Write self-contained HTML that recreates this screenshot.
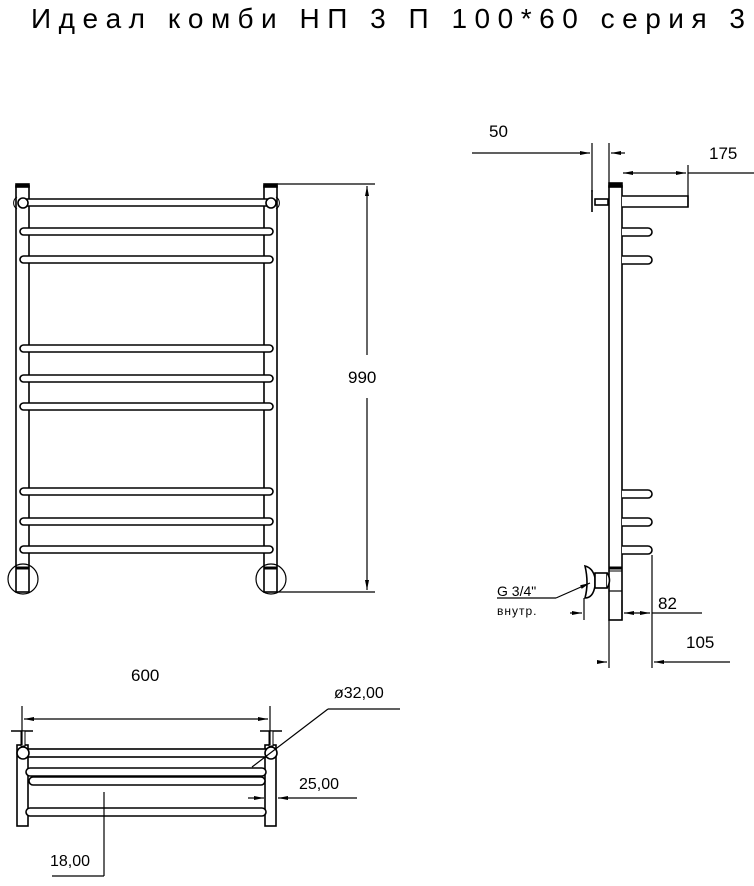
<!DOCTYPE html>
<html><head><meta charset="utf-8"><style>
html,body{margin:0;padding:0;background:#fff}
svg{display:block}
text{font-family:"Liberation Sans","DejaVu Sans",sans-serif;fill:#000}
</style></head><body>
<svg width="754" height="886" viewBox="0 0 754 886" xmlns="http://www.w3.org/2000/svg">
<defs>
<marker id="a" markerWidth="10" markerHeight="6" refX="10" refY="3" orient="auto-start-reverse" markerUnits="userSpaceOnUse"><path d="M0,1 L10,3 L0,5 Z" fill="#000"/></marker>
</defs>
<text x="31" y="28" font-size="28" textLength="714" lengthAdjust="spacing" font-weight="normal">Идеал комби НП 3 П 100*60 серия 3</text>

<g stroke="#000" stroke-width="1.6" fill="#fff">
<!-- FRONT VIEW -->
<rect x="16" y="186" width="13" height="406"/>
<rect x="264" y="186" width="13" height="406"/>
<rect x="16" y="184" width="13" height="3" fill="#000"/>
<rect x="264" y="184" width="13" height="3" fill="#000"/>
<rect x="21" y="199" width="251" height="7" rx="3"/>
<circle cx="23" cy="203" r="5"/><circle cx="271" cy="203" r="5"/>
<path d="M17,197 a7,7 0 0,0 0,12 M276,197 a7,7 0 0,1 0,12" fill="none" stroke-width="1"/>
<rect x="20" y="228" width="253" height="7" rx="3.5"/>
<rect x="20" y="256" width="253" height="7" rx="3.5"/>
<rect x="20" y="345" width="253" height="7" rx="3.5"/>
<rect x="20" y="375" width="253" height="7" rx="3.5"/>
<rect x="20" y="403" width="253" height="7" rx="3.5"/>
<rect x="20" y="488" width="253" height="7" rx="3.5"/>
<rect x="20" y="518" width="253" height="7" rx="3.5"/>
<rect x="20" y="546" width="253" height="7" rx="3.5"/>
<circle cx="23" cy="579" r="15" fill="none" stroke-width="1.2"/>
<circle cx="271" cy="579" r="15" fill="none" stroke-width="1.2"/>
<line x1="16" y1="568" x2="29" y2="568" stroke-width="3"/>
<line x1="264" y1="568" x2="277" y2="568" stroke-width="3"/>
</g>
<g stroke="#000" stroke-width="1.2" fill="none">
<line x1="277" y1="184" x2="375" y2="184"/>
<line x1="277" y1="592" x2="375" y2="592"/>
<line x1="367" y1="186" x2="367" y2="355" marker-start="url(#a)"/>
<line x1="367" y1="398" x2="367" y2="590" marker-end="url(#a)"/>
</g>
<text x="348" y="383" font-size="17">990</text>

<!-- SIDE VIEW -->
<g stroke="#000" stroke-width="1.6" fill="#fff">
<rect x="609" y="186" width="13" height="434"/>
<rect x="609" y="183" width="13" height="4" fill="#000"/>
<path d="M622,196 H688 V207 H622" />
<path d="M622,228 H648 a4,4 0 0,1 0,8 H622"/>
<path d="M622,256 H648 a4,4 0 0,1 0,8 H622"/>
<path d="M622,490 H648 a4,4 0 0,1 0,8 H622"/>
<path d="M622,518 H648 a4,4 0 0,1 0,8 H622"/>
<path d="M622,546 H648 a4,4 0 0,1 0,8 H622"/>
<line x1="592" y1="190" x2="592" y2="212"/>
<rect x="595" y="199" width="13" height="6"/>
<line x1="609" y1="568" x2="622" y2="568" stroke-width="3"/>
<line x1="609" y1="571" x2="622" y2="571" stroke-width="1"/>
<path d="M585,566 q8,2 10,12 v8 q-2,12 -10,12 q4,-15 0,-32 Z"/>
<rect x="595" y="573" width="12" height="15"/>
<path d="M607,573 q5,7 0,15"/>
</g>
<g stroke="#000" stroke-width="1.2" fill="none">
<line x1="592" y1="143" x2="592" y2="192"/>
<line x1="609" y1="143" x2="609" y2="185"/>
<line x1="472" y1="153" x2="590" y2="153" marker-end="url(#a)"/>
<line x1="611" y1="153" x2="625" y2="153" marker-start="url(#a)"/>
<line x1="688" y1="165" x2="688" y2="207"/>
<line x1="623" y1="173" x2="686" y2="173" marker-start="url(#a)" marker-end="url(#a)"/>
<line x1="688" y1="173" x2="754" y2="173"/>
<line x1="584" y1="598" x2="584" y2="620"/>
<line x1="622" y1="600" x2="622" y2="620"/>
<line x1="652" y1="555" x2="652" y2="668"/>
<line x1="570" y1="613" x2="582" y2="613" marker-end="url(#a)"/>
<line x1="624" y1="613" x2="650" y2="613" marker-start="url(#a)" marker-end="url(#a)"/>
<line x1="652" y1="613" x2="702" y2="613"/>
<line x1="609" y1="620" x2="609" y2="668"/>
<line x1="598" y1="662" x2="607" y2="662" marker-end="url(#a)"/>
<line x1="654" y1="662" x2="665" y2="662" marker-start="url(#a)"/>
<line x1="665" y1="662" x2="730" y2="662"/>
<line x1="497" y1="598" x2="556" y2="598"/>
<line x1="556" y1="598" x2="590" y2="583" marker-end="url(#a)"/>
<line x1="609" y1="591" x2="622" y2="591"/>
</g>
<text x="489" y="137" font-size="17">50</text>
<text x="709" y="159" font-size="17">175</text>
<text x="658" y="609" font-size="17">82</text>
<text x="686" y="648" font-size="17">105</text>
<text x="497" y="596" font-size="14">G 3/4"</text>
<text x="497" y="615" font-size="12" letter-spacing="1">внутр.</text>

<!-- TOP VIEW -->
<g stroke="#000" stroke-width="1.6" fill="#fff">
<rect x="17" y="745" width="11" height="81"/>
<rect x="265" y="745" width="11" height="81"/>
<line x1="11" y1="731" x2="33" y2="731"/>
<line x1="260" y1="731" x2="282" y2="731"/>
<rect x="21" y="731" width="4" height="15" stroke-width="1"/>
<rect x="269" y="731" width="4" height="15" stroke-width="1"/>
<rect x="26" y="749" width="241" height="8"/>
<rect x="26" y="768" width="240" height="8" rx="4"/>
<rect x="29" y="777" width="236" height="8" rx="4"/>
<rect x="26" y="808" width="240" height="8" rx="4"/>
<circle cx="23" cy="753" r="6"/><circle cx="271" cy="753" r="6"/>
</g>
<g stroke="#000" stroke-width="1.2" fill="none">
<line x1="22" y1="706" x2="22" y2="745"/>
<line x1="270" y1="706" x2="270" y2="745"/>
<line x1="24" y1="719" x2="268" y2="719" marker-start="url(#a)" marker-end="url(#a)"/>
<line x1="252" y1="767" x2="328" y2="709"/>
<line x1="328" y1="709" x2="400" y2="709"/>
<line x1="248" y1="798" x2="264" y2="798" marker-end="url(#a)"/>
<line x1="278" y1="798" x2="357" y2="798" marker-start="url(#a)"/>
<line x1="104" y1="792" x2="104" y2="876"/>
<line x1="52" y1="876" x2="104" y2="876"/>
</g>
<text x="131" y="681" font-size="17">600</text>
<text x="334" y="698" font-size="16">ø32,00</text>
<text x="299" y="789" font-size="16">25,00</text>
<text x="50" y="866" font-size="16">18,00</text>
</svg>
</body></html>
